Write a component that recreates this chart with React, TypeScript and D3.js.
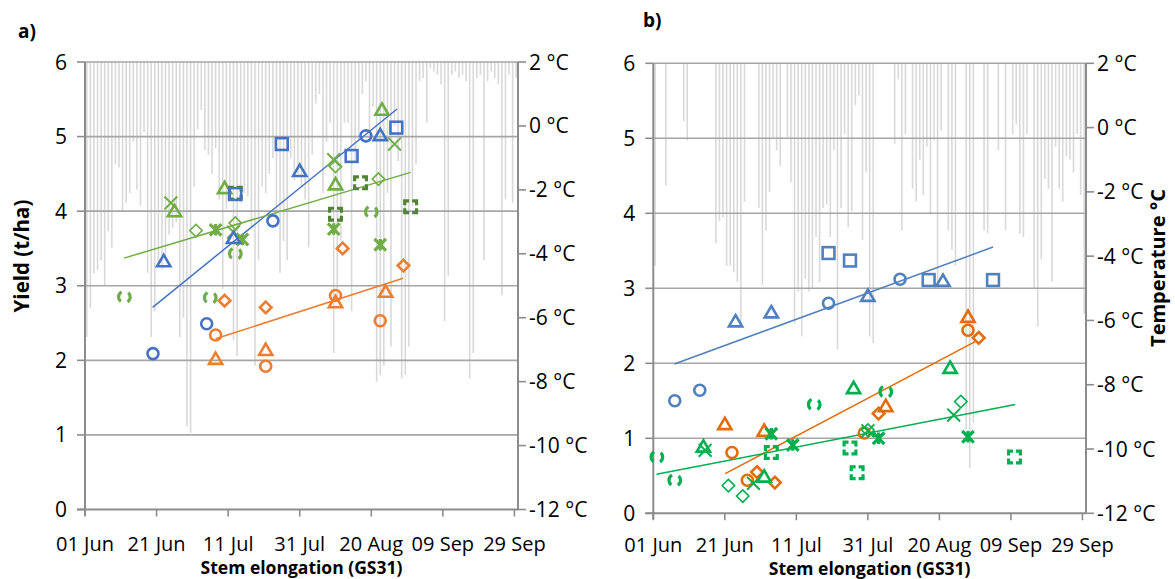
import React from 'react';
import * as d3 from 'd3';

// ---------- shared axis data ----------
const TICK_DAYS = [0, 20, 40, 60, 80, 100, 120]; // days since 01 Jun
const TICK_LABELS = ['01 Jun', '21 Jun', '11 Jul', '31 Jul', '20 Aug', '09 Sep', '29 Sep'];
const YIELD_TICKS = [0, 1, 2, 3, 4, 5, 6];
const TEMP_TICKS = [2, 0, -2, -4, -6, -8, -10, -12];

// ---------- daily minimum temperature (°C), 01 Jun .. 30 Sep ----------
const tempA: (number | null)[] = [
  -6.6, -5.7, -4.6, -4.5, -4.2, -5.0, -3.3, -3.8, -1.2, -1.3,
  -2.7, -2.4, -2.1, -0.5, -2.0, -2.5, -0.2, -4.6, -6.6, -5.8,
  -4.3, -4.5, -4.1, -3.4, -3.2, -3.0, -6.6, -6.0, -9.4, -9.6,
  -1.9, -0.1, 0.5, -0.75, -0.9, -1.5, -0.7, -2.3, -5.1, -2.6,
  -1.9, -6.7, -7.2, -2.4, -2.1, -2.2, -3.2, -7.5, -4.2, -1.9,
  -2.1, -1.5, -1.0, -2.9, -4.6, -3.6, -4.2, -1.0, -1.7, -1.5,
  -1.9, -2.3, -3.8, -0.9, 0.7, 1.0, -2.1, -0.5, 0.1, -7.1,
  -5.5, -3.6, 0.1, 0.1, -5.8, -1.1, -0.5, 1.0, 1.4, -0.4,
  0.6, -8.0, -7.8, -7.5, -2.1, -6.9, 0.0, -1.1, -7.9, -7.8,
  -6.9, -2.5, -1.2, 1.4, 1.5, 0.1, 1.8, 1.7, 1.6, 1.3,
  -6.1, -4.7, 1.6, 1.7, 1.5, 1.6, 1.4, -7.9, -7.1, 1.5,
  1.6, -4.2, 1.4, 1.7, 1.5, 1.3, -5.3, -2.3, 1.6, -2.4,
  1.5,
];
const tempB: (number | null)[] = [
  -4.3, null, null, -1.8, null, null, null, null, 0.2, -0.4,
  null, null, null, null, null, null, null, -3.6, -2.9, -2.8,
  -4.3, -4.3, -4.5, -4.8, -6.2, -2.3, null, null, null, -2.5,
  -4.9, -3.2, -2.0, -0.3, -0.7, -1.2, null, -0.3, -1.7, -6.1,
  -5.1, -6.5, -4.7, -5.1, -5.0, -3.4, -4.8, -2.5, -2.4, -3.4,
  -0.7, -6.9, -2.5, -0.2, -3.1, -2.6, 0.7, 1.0, -3.5, -1.4,
  -6.5, -6.7, null, null, null, null, null, -0.5, 1.5, -3.2,
  -0.2, null, -1.9, -2.3, -1.0, -2.1, -0.6, -2.7, -0.4, -5.0,
  -0.1, null, -3.2, -3.8, -4.3, null, null, -9.4, -10.6, -9.2,
  null, null, -3.2, -3.3, null, null, -0.7, null, -3.2, null,
  -0.2, 0.1, -3.3, -3.4, -0.2, null, -5.0, -6.2, -4.1, -1.6,
  -1.9, -4.8, -0.6, -1.9, -2.3, -0.9, -1.0, -1.4, -0.2, -2.1,
  -5.8,
];

// ---------- yields [day since 01 Jun, t/ha] ----------
// panel a
const aBlueCircle = [[19, 2.09], [34, 2.49], [52.5, 3.87], [78.5, 5.01]];
const aBlueTriangle = [[22, 3.33], [41.5, 3.64], [60, 4.54], [82.5, 5.02]];
const aBlueSquare = [[42, 4.23], [55, 4.9], [74.5, 4.74], [87, 5.12]];
const aOrangeCircle = [[36.5, 2.34], [50.5, 1.92], [70, 2.87], [82.5, 2.53]];
const aOrangeTriangle = [[36.5, 2.02], [50.5, 2.14], [70, 2.78], [84, 2.92]];
const aOrangeDiamond = [[39, 2.8], [50.5, 2.71], [72, 3.5], [89, 3.27]];
const aGreenTriangle = [[25, 4.0], [39, 4.31], [70, 4.36], [83, 5.36]];
const aGreenX = [[24, 4.11], [41.5, 3.72], [69.5, 4.69], [86.5, 4.9]];
const aGreenStar = [[36.5, 3.75], [44, 3.62], [69.5, 3.76], [82.5, 3.55]];
const aGreenDiamond = [[31, 3.74], [42, 3.84], [70, 4.6], [82, 4.43]];
const aGreenDashCircle = [[11, 2.85], [35, 2.84], [42, 3.43], [80, 3.99]];
const aGreenDashSquare = [[42, 4.24], [70, 3.96], [77, 4.38], [91, 4.06]];
const aTrendBlue = [[18.9, 2.71], [87.2, 5.37]];
const aTrendOrange = [[36.5, 2.29], [88.9, 3.1]];
const aTrendGreen = [[10.9, 3.37], [91, 4.52]];

// panel b
const bBlueSquare = [[49, 3.47], [55, 3.37], [77, 3.11], [95, 3.11]];
const bBlueCircle = [[6, 1.5], [13, 1.64], [49, 2.8], [69, 3.12]];
const bBlueTriangle = [[23, 2.56], [33, 2.68], [60, 2.9], [81, 3.1]];
const bOrangeTriangle = [[20, 1.19], [31, 1.1], [65, 1.43], [88, 2.62]];
const bOrangeCircle = [[22, 0.81], [26.3, 0.44], [59, 1.07], [88, 2.44]];
const bOrangeDiamond = [[29, 0.55], [34, 0.41], [63, 1.33], [91, 2.34]];
const bGreenDashCircle = [[1, 0.75], [6, 0.44], [45, 1.45], [65, 1.62]];
const bGreenTriangle = [[14, 0.89], [31, 0.49], [56, 1.67], [83, 1.94]];
const bGreenX = [[14.5, 0.84], [28, 0.4], [60, 1.1], [84, 1.31]];
const bGreenStar = [[33, 1.06], [39, 0.91], [63, 1.0], [88, 1.02]];
const bGreenDiamond = [[21, 0.37], [25, 0.23], [60, 1.11], [86, 1.49]];
const bGreenDashSquare = [[33, 0.81], [55, 0.87], [57, 0.54], [101, 0.75]];
const bTrendBlue = [[5.9, 1.99], [95, 3.55]];
const bTrendOrange = [[20.1, 0.53], [90, 2.29]];
const bTrendGreen = [[0.9, 0.52], [101.2, 1.45]];

const FONT = "'Open Sans', 'Liberation Sans', sans-serif";
const AXIS_GREY = '#8c8c8c';
const GRID_GREY = '#a6a6a6';
const BAR_GREY = '#d9d9d9';

type Shape = 'circle' | 'triangle' | 'square' | 'diamond' | 'diamondThin' | 'x' | 'star' | 'dashCircle' | 'dashSquare';

function Marker({ shape, cx, cy, color }: { shape: Shape; cx: number; cy: number; color: string }) {
  const common = { fill: 'none', stroke: color };
  switch (shape) {
    case 'circle':
      return <circle cx={cx} cy={cy} r={5.5} {...common} strokeWidth={2.6} />;
    case 'dashCircle':
      return (
        <circle cx={cx} cy={cy} r={5.8} {...common} strokeWidth={3.2}
          strokeDasharray="11.2 7" strokeDashoffset={5.6} />
      );
    case 'triangle': {
      const h = 6.3;
      const p = `M${cx},${cy - h} L${cx + h * 1.05},${cy + h * 0.8} L${cx - h * 1.05},${cy + h * 0.8} Z`;
      return <path d={p} {...common} strokeWidth={2.6} strokeLinejoin="miter" />;
    }
    case 'square':
      return <rect x={cx - 5.9} y={cy - 5.9} width={11.8} height={11.8} {...common} strokeWidth={2.6} />;
    case 'dashSquare':
      return (
        <rect x={cx - 5.9} y={cy - 5.9} width={11.8} height={11.8} {...common} strokeWidth={3.2}
          strokeDasharray="8.8 3" strokeDashoffset={4.4} />
      );
    case 'diamond': {
      const s = 5.8;
      return <path d={`M${cx},${cy - s} L${cx + s},${cy} L${cx},${cy + s} L${cx - s},${cy} Z`} {...common} strokeWidth={2.6} />;
    }
    case 'diamondThin': {
      const s = 6.2;
      return <path d={`M${cx},${cy - s} L${cx + s},${cy} L${cx},${cy + s} L${cx - s},${cy} Z`} {...common} strokeWidth={1.6} />;
    }
    case 'x': {
      const s = 6.4;
      return <path d={`M${cx - s},${cy - s} L${cx + s},${cy + s} M${cx - s},${cy + s} L${cx + s},${cy - s}`} {...common} strokeWidth={2} />;
    }
    case 'star': {
      const s = 5.8;
      return (
        <path d={`M${cx - s},${cy - s} L${cx + s},${cy + s} M${cx - s},${cy + s} L${cx + s},${cy - s} M${cx},${cy - s} L${cx},${cy + s}`}
          {...common} strokeWidth={3.2} />
      );
    }
  }
  return null;
}

interface Series { pts: number[][]; shape: Shape; color: string }

interface PanelProps {
  x0: number; x1: number; y0: number; y1: number;
  temps: (number | null)[];
  series: Series[];
  trends: { pts: number[][]; color: string }[];
  letter: string; letterX: number; letterY: number;
  tickLabelY: number; titleY: number;
}

function Panel(p: PanelProps) {
  const x = d3.scaleLinear().domain([0, 121]).range([p.x0, p.x1]);
  const y = d3.scaleLinear().domain([0, 6]).range([p.y1, p.y0]);
  const t = d3.scaleLinear().domain([-12, 2]).range([p.y1, p.y0]);
  const line = d3.line<number[]>().x((d) => x(d[0])).y((d) => y(d[1]));
  const fs = 21;
  return (
    <g>
      {/* temperature bars hanging from 2 °C */}
      {p.temps.map((v, i) =>
        v === null ? null : (
          <line key={'b' + i} x1={x(i + 0.5)} x2={x(i + 0.5)} y1={t(2)} y2={t(v)} stroke={BAR_GREY} strokeWidth={1.6} />
        )
      )}
      {/* gridlines */}
      {YIELD_TICKS.filter((v) => v > 0).map((v) => (
        <line key={'g' + v} x1={p.x0} x2={p.x1} y1={y(v)} y2={y(v)} stroke={GRID_GREY} strokeWidth={1.6} />
      ))}
      {/* axes */}
      <line x1={p.x0 - 8} x2={p.x1} y1={y(0)} y2={y(0)} stroke={AXIS_GREY} strokeWidth={2} />
      <line x1={p.x0} x2={p.x0} y1={y(6)} y2={y(0) + 6} stroke={AXIS_GREY} strokeWidth={2} />
      <line x1={p.x1} x2={p.x1} y1={t(2)} y2={t(-12)} stroke={AXIS_GREY} strokeWidth={2} />
      {YIELD_TICKS.map((v) => (
        <g key={'yt' + v}>
          <line x1={p.x0 - 8} x2={p.x0} y1={y(v)} y2={y(v)} stroke={AXIS_GREY} strokeWidth={1.6} />
          <text x={p.x0 - 18} y={y(v) + 7.5} textAnchor="end" fontSize={fs} fontFamily={FONT} fill="#000">{v}</text>
        </g>
      ))}
      {TEMP_TICKS.map((v) => (
        <g key={'tt' + v}>
          <line x1={p.x1} x2={p.x1 + 8} y1={t(v)} y2={t(v)} stroke={AXIS_GREY} strokeWidth={1.6} />
          <text x={p.x1 + 11} y={t(v) + 7.5} fontSize={fs} fontFamily={FONT} fill="#000">{`${v} °C`}</text>
        </g>
      ))}
      {TICK_DAYS.map((d, i) => (
        <g key={'xt' + d}>
          <line x1={x(d)} x2={x(d)} y1={y(0)} y2={y(0) + 7} stroke={AXIS_GREY} strokeWidth={1.6} />
          <text x={x(d)} y={p.tickLabelY} textAnchor="middle" fontSize={20} fontFamily={FONT} fill="#000">{TICK_LABELS[i]}</text>
        </g>
      ))}
      {/* trend lines */}
      {p.trends.map((tr, i) => (
        <path key={'tr' + i} d={line(tr.pts) || ''} stroke={tr.color} strokeWidth={1.5} fill="none" />
      ))}
      {/* markers */}
      {p.series.map((s, si) =>
        s.pts.map((d, i) => <Marker key={si + '-' + i} shape={s.shape} cx={x(d[0])} cy={y(d[1])} color={s.color} />)
      )}
      {/* titles */}
      <text x={(p.x0 + p.x1) / 2} y={p.titleY} textAnchor="middle" fontSize={17.5} fontWeight="bold" fontFamily={FONT}>Stem elongation (GS31)</text>
      <text x={p.letterX} y={p.letterY} fontSize={19} fontWeight="bold" fontFamily={FONT}>{p.letter}</text>
    </g>
  );
}

export default function App() {
  const BLUE_A = '#4472c4', ORANGE_A = '#ed7d31', GREEN_A = '#70ad47', DKGREEN_A = '#548235';
  const BLUE_B = '#4f81bd', ORANGE_B = '#e46c0a', GREEN_B = '#00b050';
  const seriesA: Series[] = [
    { pts: aGreenDashCircle, shape: 'dashCircle', color: GREEN_A },
    { pts: aGreenDiamond, shape: 'diamondThin', color: GREEN_A },
    { pts: aGreenX, shape: 'x', color: GREEN_A },
    { pts: aGreenStar, shape: 'star', color: GREEN_A },
    { pts: aGreenTriangle, shape: 'triangle', color: GREEN_A },
    { pts: aGreenDashSquare, shape: 'dashSquare', color: DKGREEN_A },
    { pts: aOrangeCircle, shape: 'circle', color: ORANGE_A },
    { pts: aOrangeTriangle, shape: 'triangle', color: ORANGE_A },
    { pts: aOrangeDiamond, shape: 'diamond', color: ORANGE_A },
    { pts: aBlueCircle, shape: 'circle', color: BLUE_A },
    { pts: aBlueTriangle, shape: 'triangle', color: BLUE_A },
    { pts: aBlueSquare, shape: 'square', color: BLUE_A },
  ];
  const seriesB: Series[] = [
    { pts: bBlueSquare, shape: 'square', color: BLUE_B },
    { pts: bBlueCircle, shape: 'circle', color: BLUE_B },
    { pts: bBlueTriangle, shape: 'triangle', color: BLUE_B },
    { pts: bOrangeTriangle, shape: 'triangle', color: ORANGE_B },
    { pts: bOrangeCircle, shape: 'circle', color: ORANGE_B },
    { pts: bOrangeDiamond, shape: 'diamond', color: ORANGE_B },
    { pts: bGreenDashCircle, shape: 'dashCircle', color: GREEN_B },
    { pts: bGreenTriangle, shape: 'triangle', color: GREEN_B },
    { pts: bGreenX, shape: 'x', color: GREEN_B },
    { pts: bGreenStar, shape: 'star', color: GREEN_B },
    { pts: bGreenDiamond, shape: 'diamondThin', color: GREEN_B },
    { pts: bGreenDashSquare, shape: 'dashSquare', color: GREEN_B },
  ];
  return (
    <svg width={1175} height={579} style={{ position: 'absolute', left: 0, top: 0, background: '#fff' }}>
      <Panel x0={85} x1={518} y0={62} y1={509.5} temps={tempA} series={seriesA}
        trends={[{ pts: aTrendBlue, color: BLUE_A }, { pts: aTrendOrange, color: ORANGE_A }, { pts: aTrendGreen, color: GREEN_A }]}
        letter="a)" letterX={18} letterY={38} tickLabelY={551} titleY={574} />
      <Panel x0={653.3} x1={1086} y0={63.3} y1={513.3} temps={tempB} series={seriesB}
        trends={[{ pts: bTrendBlue, color: BLUE_B }, { pts: bTrendOrange, color: ORANGE_B }, { pts: bTrendGreen, color: GREEN_B }]}
        letter="b)" letterX={643} letterY={27} tickLabelY={551.5} titleY={575} />
      <text transform="translate(29,256) rotate(-90)" textAnchor="middle" fontSize={20.5} fontWeight="bold" fontFamily={FONT}>Yield (t/ha)</text>
      <text transform="translate(1165,268) rotate(-90)" textAnchor="middle" fontSize={20} fontWeight="bold" fontFamily={FONT}>Temperature °C</text>
    </svg>
  );
}
